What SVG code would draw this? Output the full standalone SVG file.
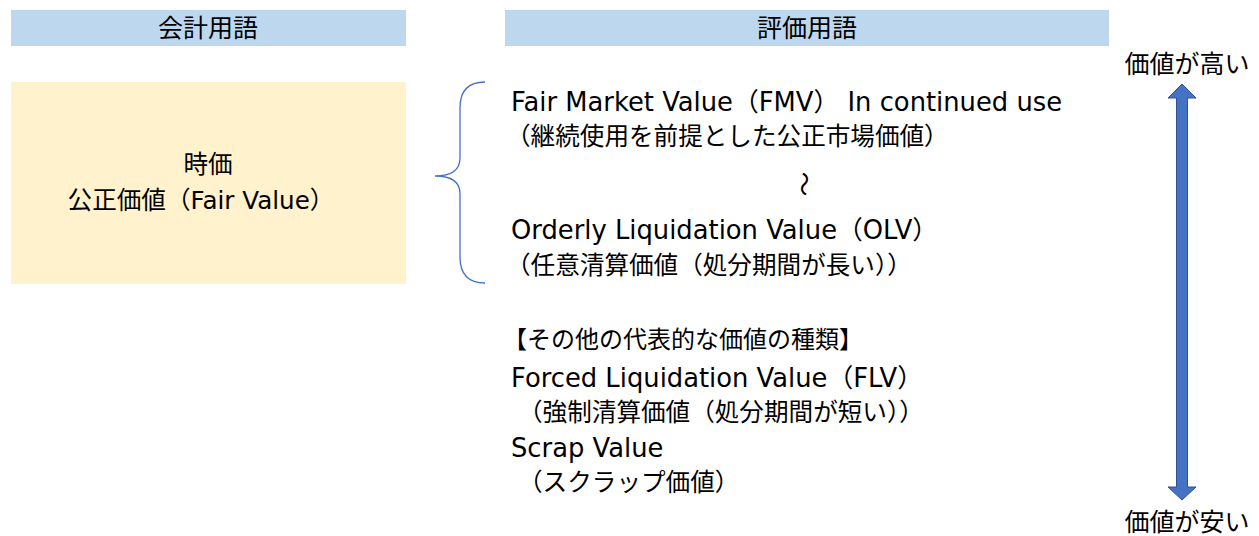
<svg xmlns="http://www.w3.org/2000/svg" width="1259" height="536" viewBox="0 0 1259 536">
<style>
.t{font-family:"DejaVu Sans","Noto Sans CJK JP",sans-serif;fill:#000;}
.h{font-size:25px;text-anchor:middle;}
.m{font-size:25.8px;}
.j{font-size:24.6px;}
.k{font-size:24px;}
</style>
<defs></defs>
<rect width="1259" height="536" fill="#fff"/>
<g id="header-accounting">
<rect x="11" y="10" width="395" height="36" fill="#BDD7EE"/>
<text class="t h" x="208" y="37">会計用語</text>
</g>
<g id="header-valuation">
<rect x="505" y="10" width="604" height="36" fill="#BDD7EE"/>
<text class="t h" x="807" y="37">評価用語</text>
</g>
<g id="fair-value">
<rect x="11" y="82" width="395" height="202" fill="#FFF2CC"/>
<text class="t j" x="208" y="173" text-anchor="middle">時価</text>
<text class="t j" x="201" y="209" text-anchor="middle" font-size="25">公正価値（Fair Value）</text>
</g>
<g id="valuation-terms">
<text class="t m" x="511" y="111">Fair Market Value（FMV） In continued use</text>
<text class="t j" x="506" y="145">（継続使用を前提とした公正市場価値）</text>
<text class="t j" transform="translate(803,184) rotate(90)" text-anchor="middle" dy="8">～</text>
<text class="t m" x="511" y="239">Orderly Liquidation Value（OLV）</text>
<text class="t j" x="506" y="274">（任意清算価値（処分期間が長い））</text>
</g>
<g id="other-values">
<text class="t k" x="503" y="348">【その他の代表的な価値の種類】</text>
<text class="t m" x="511" y="387">Forced Liquidation Value（FLV）</text>
<text class="t j" x="518" y="421">（強制清算価値（処分期間が短い））</text>
<text class="t m" x="511" y="457">Scrap Value</text>
<text class="t j" x="518" y="491">（スクラップ価値）</text>
</g>
<g id="connectors">
<path d="M485,82 Q460,82 460,108 L460,158 Q460,176 435,176 Q460,176 460,194 L460,257 Q460,283 485,283" fill="none" stroke="#4472C4" stroke-width="1.3"/>
<path d="M1182,84 L1196,98 L1187.5,98 L1187.5,487 L1196,487 L1182,500 L1168,487 L1176.5,487 L1176.5,98 L1168,98 Z" fill="#4472C4" stroke="#2F528F" stroke-width="1"/>
</g>
<g id="labels">
<text class="t h" x="1187" y="73">価値が高い</text>
<text class="t h" x="1187" y="531">価値が安い</text>
</g>
</svg>
